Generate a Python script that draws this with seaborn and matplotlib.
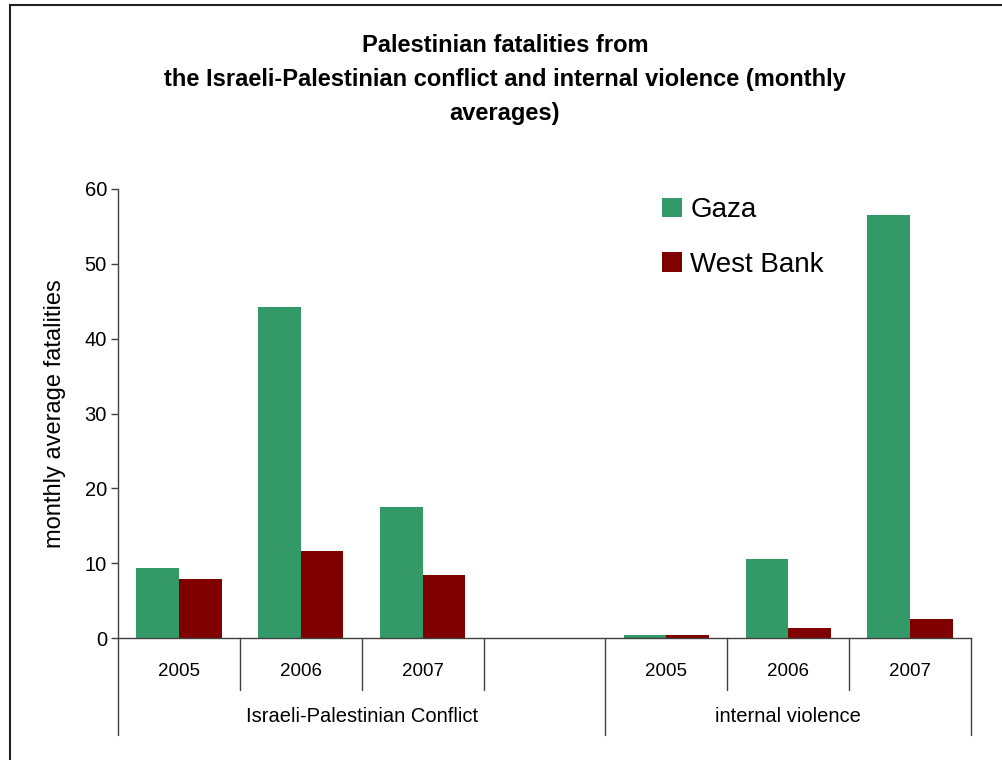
import matplotlib
matplotlib.use("Agg")
import matplotlib.pyplot as plt
import seaborn as sns
import pandas as pd
import numpy as np
from matplotlib.patches import Patch, Rectangle
import matplotlib.transforms as mtransforms

# ---- data ----
groups = ["Israeli-Palestinian Conflict", "internal violence"]
years = ["2005", "2006", "2007"]
slots = ["IPC 2005", "IPC 2006", "IPC 2007", "gap", "IV 2005", "IV 2006", "IV 2007"]
slot_years = ["2005", "2006", "2007", "", "2005", "2006", "2007"]
gaza = [9.35, 44.2, 17.5, np.nan, 0.45, 10.6, 56.5]
west_bank = [7.9, 11.65, 8.45, np.nan, 0.45, 1.35, 2.6]
series = ["Gaza", "West Bank"]
colors = ["#339966", "#800000"]

df = pd.DataFrame({
    "slot": slots * 2,
    "value": gaza + west_bank,
    "series": [series[0]] * len(slots) + [series[1]] * len(slots),
})

sns.set_theme(style="white")
plt.rcParams['font.family'] = ['Liberation Sans', 'DejaVu Sans']
plt.rcParams['text.color'] = 'black'
plt.rcParams['axes.labelcolor'] = 'black'
plt.rcParams['ytick.color'] = 'black'

fig = plt.figure(figsize=(10.02, 7.6), dpi=100)
ax = fig.add_axes([118/1002, 1-638/760, (971-118)/1002, (638-189)/760])

sns.barplot(data=df, x="slot", y="value", hue="series", order=slots,
            hue_order=series, palette=colors, width=0.7, saturation=1,
            edgecolor='none', linewidth=0, ax=ax, legend=False)

ax.set_xlim(-0.5, len(slots) - 0.5)
ax.set_ylim(0, 60)
ax.set_yticks(range(0, 61, 10))
ax.tick_params(axis='y', labelsize=14.5, length=5, width=1, color='#404040',
               labelcolor='black', direction='out', pad=3, left=True)
ax.set_xticks([])
ax.set_xlabel("")
ax.set_ylabel("monthly average fatalities", fontsize=17, labelpad=13, color='black')
for s in ["top", "right"]:
    ax.spines[s].set_visible(False)
for s in ["left", "bottom"]:
    ax.spines[s].set_color('#404040')
    ax.spines[s].set_linewidth(1)

trans = mtransforms.blended_transform_factory(ax.transData, ax.transAxes)
ah = 638 - 189
short = -(690 - 638) / ah
long_ = -(735 - 638) / ah
for b in [0.5, 1.5, 2.5, 4.5, 5.5]:
    ax.plot([b, b], [0, short], transform=trans, color='#404040', lw=1, clip_on=False)
for b in [-0.5, 3.5, 6.5]:
    ax.plot([b, b], [0, long_], transform=trans, color='#404040', lw=1, clip_on=False)
for i, y in enumerate(slot_years):
    if y:
        ax.text(i, -(672 - 638) / ah, y, transform=trans, ha='center', va='center',
                fontsize=13.5, color='black')
ax.text(1.5, -(717 - 638) / ah, groups[0], transform=trans, ha='center', va='center',
        fontsize=14.5, color='black')
ax.text(5.0, -(717 - 638) / ah, groups[1], transform=trans, ha='center', va='center',
        fontsize=14.5, color='black')

handles = [Patch(facecolor=c, edgecolor='none', label=s) for c, s in zip(colors, series)]
fig.legend(handles=handles, loc='upper left', bbox_to_anchor=(651/1002, 1-186/760),
           frameon=False, fontsize=20, handlelength=0.72, handleheight=0.72,
           handletextpad=0.3, labelspacing=1.03, borderaxespad=0, labelcolor='black')

fig.text(505/1002, 1-79.5/760,
         "Palestinian fatalities from\nthe Israeli-Palestinian conflict and internal violence (monthly\naverages)",
         ha='center', va='center', fontsize=17, fontweight='bold', linespacing=1.6,
         color='black')

fig.add_artist(Rectangle((10/1002, -0.01), 1.0, 1 - 5/760 + 0.01, transform=fig.transFigure,
                         fill=False, edgecolor='#202020', lw=1.5))

fig.savefig("out.png", dpi=100)
